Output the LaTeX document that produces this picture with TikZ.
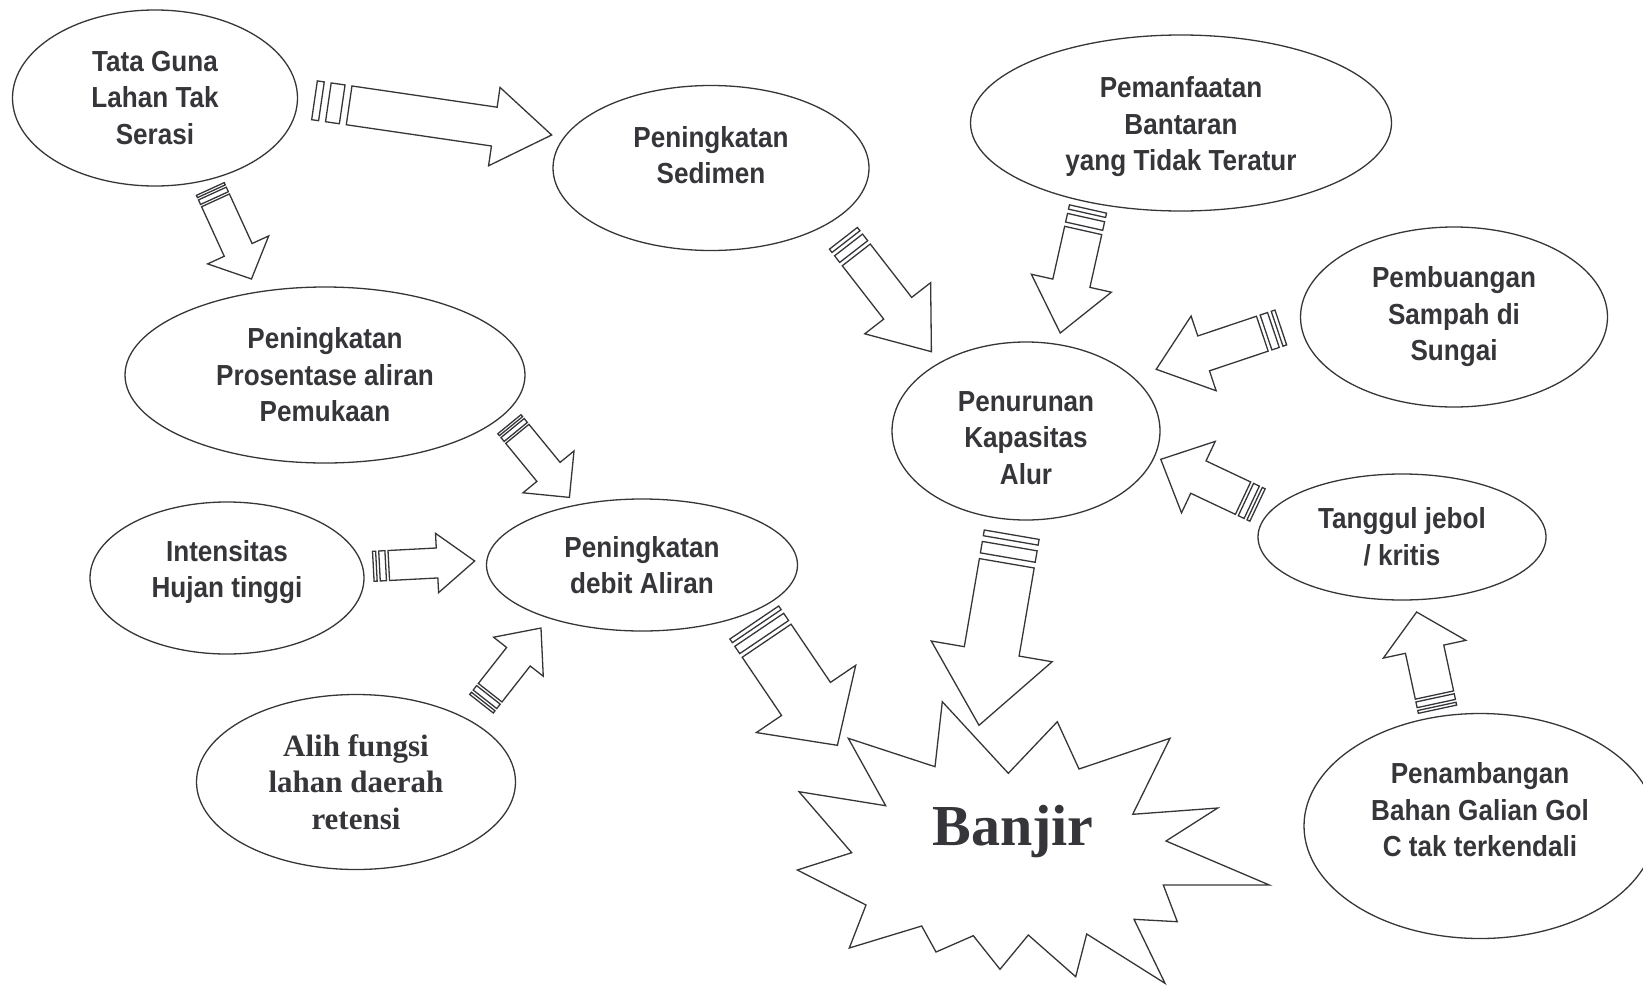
\documentclass[tikz,border=0pt]{standalone}
\usepackage{fontspec}
\setmainfont{Liberation Serif}
\setsansfont{Liberation Sans}[FakeStretch=0.9]
\usetikzlibrary{shapes.geometric,calc}
\definecolor{ink}{HTML}{36363A}
\tikzset{
  txt/.style={align=center,text=ink,font=\sffamily\bfseries\fontsize{29}{36.5}\selectfont},
  romantxt/.style={font=\rmfamily\bfseries\fontsize{31}{36.7}\selectfont},
  bubble/.style={txt,ellipse,draw=ink,line width=1.3pt,inner sep=0pt},
  blockline/.style={draw=ink,line width=1.3pt,fill=white,line join=miter},
}
% tail, tip, shaft half width, head half width, head length, stripe
\newcommand{\stripedarrow}[6]{%
  \path let \p1=($(#2)-(#1)$) in
    \pgfextra{\pgfmathsetmacro\arang{atan2(\y1,\x1)}%
      \pgfmathsetmacro\arlen{veclen(\x1,\y1)}%
      \global\let\arang\arang\global\let\arlen\arlen};
  \begin{scope}[shift={(#1)},rotate=\arang,x=1pt,y=1pt]
    \draw[blockline] (0,-#3) rectangle (#6,#3);
    \draw[blockline] ({2*#6},-#3) rectangle ({4*#6},#3);
    \draw[blockline] ({5*#6},-#3) -- ({\arlen-#5},-#3) -- ({\arlen-#5},-#4)
      -- (\arlen,0) -- ({\arlen-#5},#4) -- ({\arlen-#5},#3) -- ({5*#6},#3) -- cycle;
  \end{scope}}
\begin{document}
\begin{tikzpicture}[x=1pt,y=-1pt]
\useasboundingbox (0,0) rectangle (1643,985);
\node[bubble,minimum width=285,minimum height=176] (tata) at (155,98) {Tata Guna\\Lahan Tak\\Serasi};
\node[bubble,minimum width=316,minimum height=165,label={[txt,yshift=13]center:{Peningkatan\\Sedimen}}] (sedimen) at (711,168) {};
\node[bubble,minimum width=421,minimum height=176,label={[txt,yshift=-4]center:{Pemanfaatan\\Bantaran\\yang Tidak Teratur}}] (bantaran) at (1181,123) {};
\node[bubble,minimum width=307,minimum height=180] (sampah) at (1454,317) {Pembuangan\\Sampah di\\Sungai};
\node[bubble,minimum width=268,minimum height=178,label={[txt,yshift=-7]center:{Penurunan\\Kapasitas\\Alur}}] (kapasitas) at (1026,431) {};
\node[bubble,minimum width=288,minimum height=126] (tanggul) at (1402,537) {Tanggul jebol\\/ kritis};
\node[bubble,minimum width=352,minimum height=225,label={[txt,yshift=16]center:{Penambangan\\Bahan Galian Gol\\C tak terkendali}}] (tambang) at (1480,826) {};
\node[bubble,minimum width=400,minimum height=176] (prosentase) at (325,375) {Peningkatan\\Prosentase aliran\\Pemukaan};
\node[bubble,minimum width=274,minimum height=152,label={[txt,yshift=6]center:{Intensitas\\Hujan tinggi}}] (hujan) at (227,578) {};
\node[bubble,minimum width=311,minimum height=132] (debit) at (642,565) {Peningkatan\\debit Aliran};
\node[bubble,romantxt,minimum width=319,minimum height=175] (alih) at (356,782) {Alih fungsi\\lahan daerah\\retensi};
\draw[blockline] (848.3,738.3) -- (935,766.7) -- (942.3,701.7) -- (1008.3,773.3) -- (1057.3,721.7)
  -- (1079,769) -- (1170,738.3) -- (1132.7,814.3) -- (1217.7,808) -- (1166,841) -- (1269.3,885)
  -- (1163.3,885) -- (1177.3,921.7) -- (1134,919.3) -- (1165,983.3) -- (1086.7,934) -- (1075.7,976.7)
  -- (1028.3,935) -- (1000,969.3) -- (973.3,935.7) -- (936,952) -- (921.7,926) -- (849.3,948)
  -- (866,905) -- (797.3,870) -- (851.7,852.7) -- (799,791.7) -- (885.7,805.7) -- cycle;
\node[txt,font=\rmfamily\bfseries\fontsize{58}{60}\selectfont] (banjir) at (1013,832) {Banjir};
\coordinate (s1) at (314.5,100.3);  \coordinate (e1) at (551.7,135);
\coordinate (s2) at (210.3,189);    \coordinate (e2) at (251.5,279);
\coordinate (s3) at (843.4,238.3);  \coordinate (e3) at (931.4,351.7);
\coordinate (s4) at (1088,209);     \coordinate (e4) at (1060.2,333);
\coordinate (s5) at (1280.8,327.5); \coordinate (e5) at (1156.2,369.3);
\coordinate (s6) at (1257.5,505);   \coordinate (e6) at (1160.7,459.3);
\coordinate (s7) at (1437.5,709.2); \coordinate (e7) at (1416.6,612);
\coordinate (s8) at (509.4,424.2);  \coordinate (e8) at (569.5,497.5);
\coordinate (s9) at (373.3,566.3);  \coordinate (e9) at (474.7,561);
\coordinate (s10) at (481.5,703.7); \coordinate (e10) at (541,628);
\coordinate (s11) at (754.3,622.5); \coordinate (e11) at (837.4,745.3);
\coordinate (s12) at (1011.7,534.7); \coordinate (e12) at (979,725.3);
\stripedarrow{s1}{e1}{19.6}{39.6}{58}{7}
\stripedarrow{s2}{e2}{15.3}{33.6}{32}{2.5}
\stripedarrow{s3}{e3}{17.7}{41.7}{55}{4.2}
\stripedarrow{s4}{e4}{19}{41}{51}{4.4}
\stripedarrow{s5}{e5}{18.4}{39.4}{50}{3.9}
\stripedarrow{s6}{e6}{17.9}{39.5}{41.6}{3.2}
\stripedarrow{s7}{e7}{19.6}{42.2}{38}{2.9}
\stripedarrow{s8}{e8}{15}{33}{33}{2.5}
\stripedarrow{s9}{e9}{15}{29.7}{37.7}{3.1}
\stripedarrow{s10}{e10}{15}{31.6}{36.5}{2.8}
\stripedarrow{s11}{e11}{29.5}{60}{56}{4.4}
\stripedarrow{s12}{e12}{27.8}{61.3}{75}{5.8}
\end{tikzpicture}
\end{document}
